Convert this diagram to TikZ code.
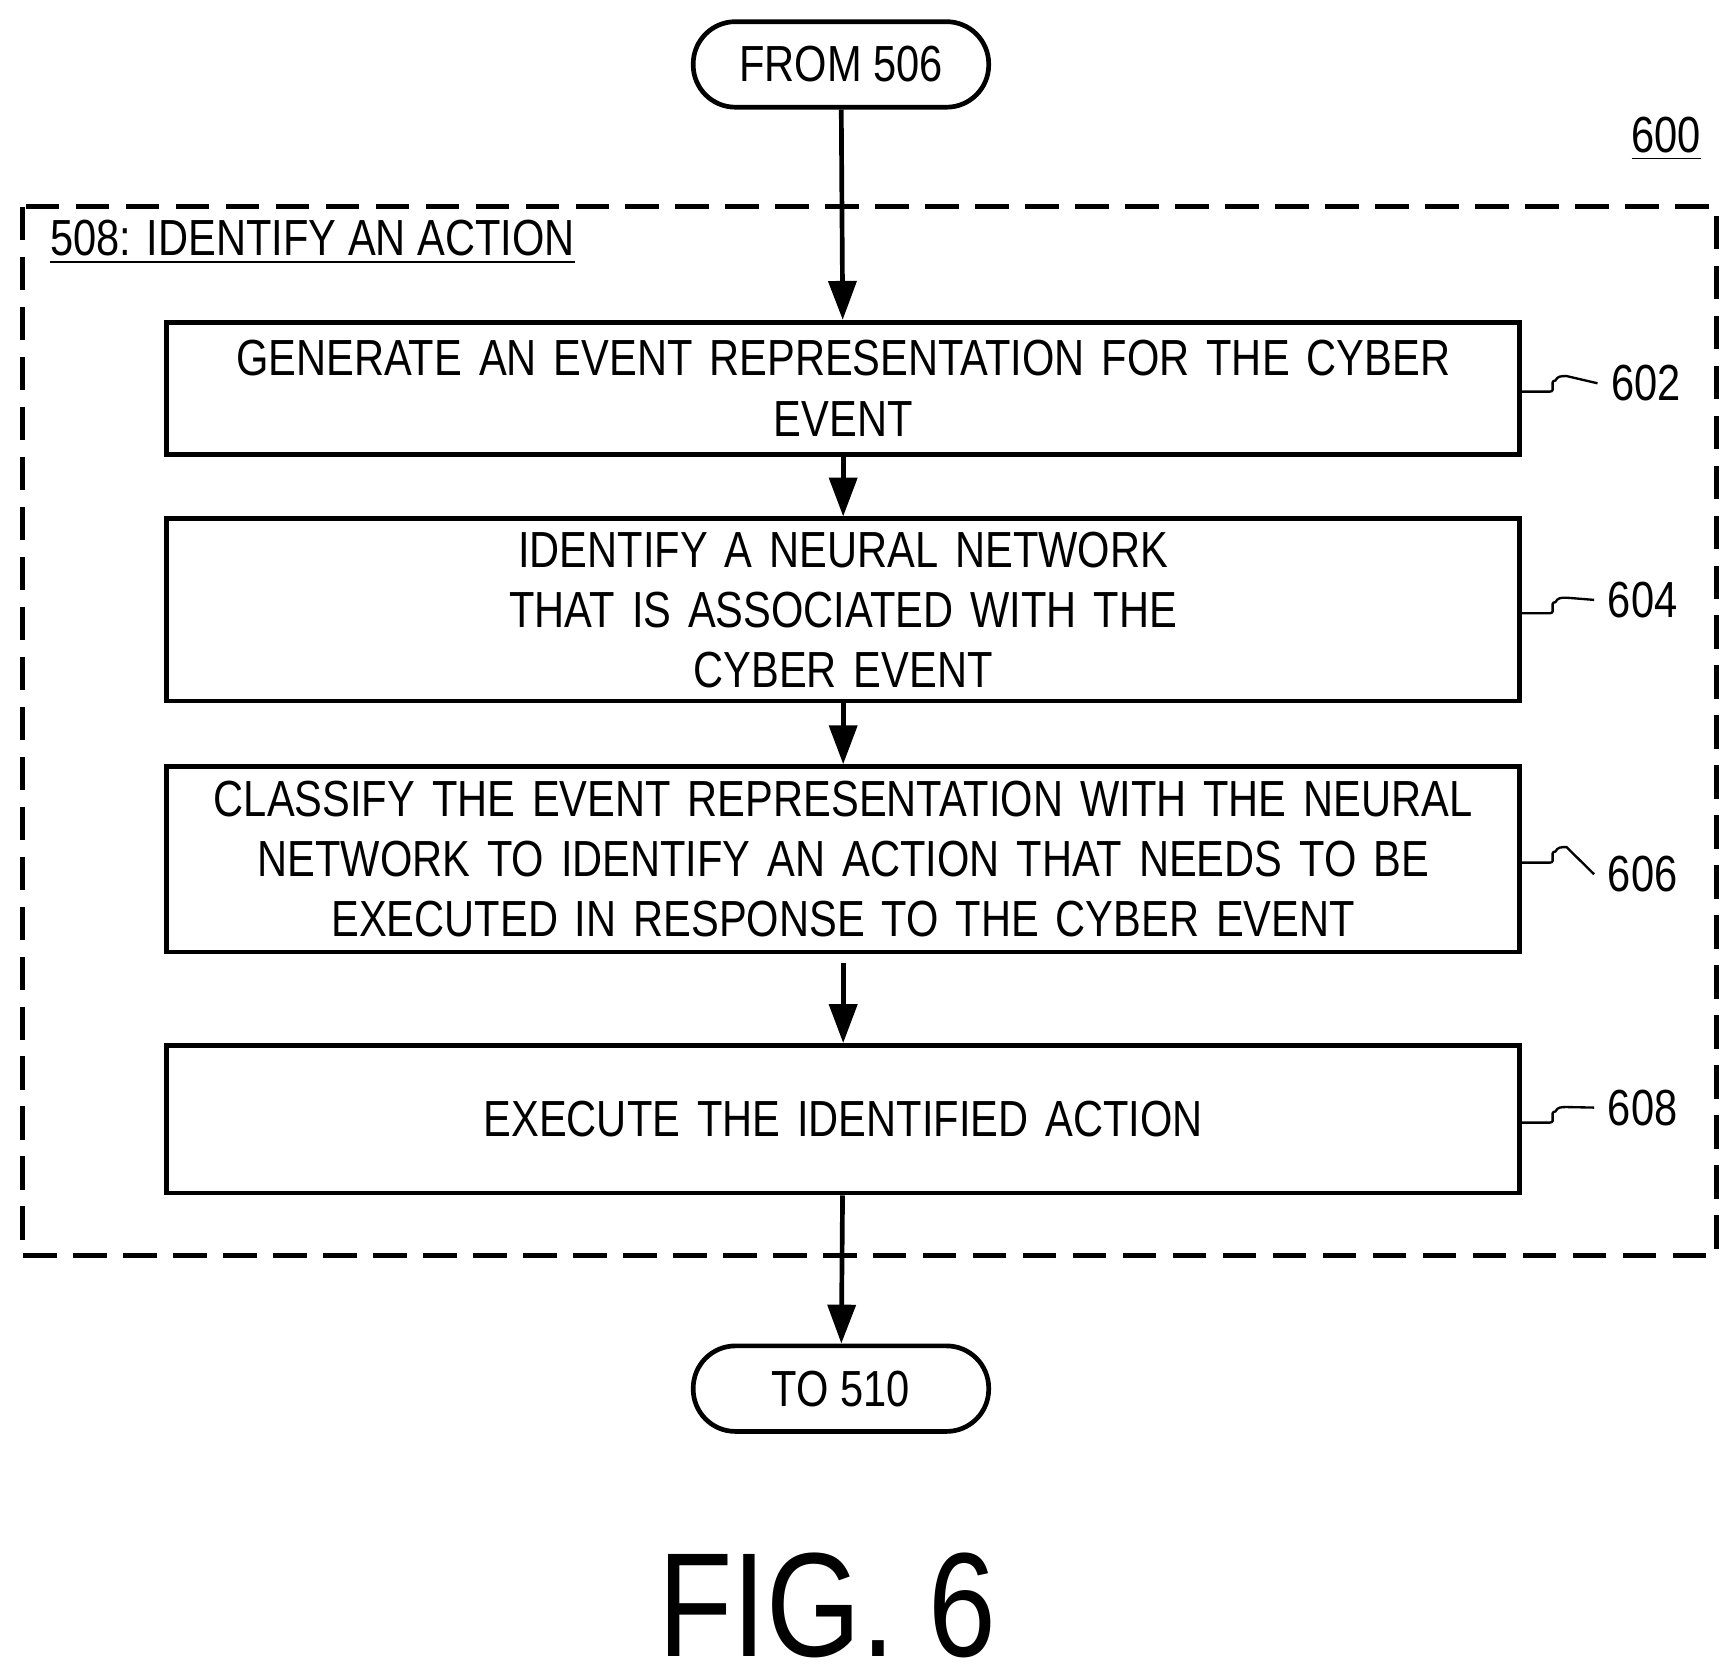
\documentclass[tikz,border=0pt]{standalone}
\usepackage{fontspec}
\setmainfont{Liberation Sans}[FakeStretch=0.82]
\usetikzlibrary{positioning,arrows.meta}
\tikzset{
  stepbox/.style={draw, line width=1.2pt, text width=11.9cm, minimum width=12.18cm, align=center, font=\fontsize{13}{15.4}\selectfont},
  term/.style={draw, line width=1.2pt, rounded corners=0.38cm, minimum width=2.66cm, minimum height=0.77cm, font=\fontsize{13}{15.4}\selectfont},
  flow/.style={-{Triangle[length=0.35cm,width=0.25cm]}, line width=1.2pt},
  ref/.style={font=\fontsize{13}{15.4}\selectfont},
  squig/.style={line width=0.6pt}
}
\begin{document}
\begin{tikzpicture}
    \useasboundingbox (0,0) rectangle (15.6,-15.0);

    % Define the positions of the nodes
    \node[term] (from) at (7.57,-0.58) {FROM 506};
    \node[ref] (fig) at (15.0,-1.25) {\underline{600}};
    \draw[dashed, dash pattern=on 0.3cm off 0.15cm, line width=1.2pt] (0.2,-1.86) rectangle (15.45,-11.3);
    \node[ref, anchor=west] (title) at (0.33,-2.18) {\underline{508: IDENTIFY AN ACTION}};

    \node[stepbox, minimum height=1.19cm] (s602) at (7.59,-3.495) {GENERATE AN EVENT REPRESENTATION FOR THE CYBER\\EVENT};
    \node[stepbox, minimum height=1.26cm] (s604) at (7.59,-5.49) {IDENTIFY A NEURAL NETWORK THAT IS ASSOCIATED WITH THE\\CYBER EVENT};
    \node[stepbox, minimum height=1.67cm] (s606) at (7.59,-7.735) {CLASSIFY THE EVENT REPRESENTATION WITH THE NEURAL\\NETWORK TO IDENTIFY AN ACTION THAT NEEDS TO BE\\EXECUTED IN RESPONSE TO THE CYBER EVENT};
    \node[stepbox, minimum height=1.33cm] (s608) at (7.59,-10.075) {EXECUTE THE IDENTIFIED ACTION};
    \node[term] (to) at (7.57,-12.5) {TO 510};
    \node[font=\fontsize{38}{44}\selectfont] (caption) at (7.45,-14.45) {FIG. 6};

    % Reference numerals
    \node[ref, anchor=west] (n602) at (14.38,-3.45) {602};
    \node[ref, anchor=west] (n604) at (14.35,-5.4) {604};
    \node[ref, anchor=west] (n606) at (14.35,-7.87) {606};
    \node[ref, anchor=west] (n608) at (14.35,-9.97) {608};
    \foreach \s/\n in {s602/n602, s604/n604, s606/n606, s608/n608} {
      \draw[squig] ([yshift=-0.03cm]\s.east) -- ++(0.25,0) .. controls +(0.06,0) and +(-0.06,0) .. ++(0.05,0.1)
        .. controls +(0.02,0.04) and +(-0.05,0) .. ++(0.1,0.04) -- (\n.west);
    }

    % Draw the edges
    \draw[flow] (from) -- (s602);
    \draw[flow] (s602) -- (s604);
    \draw[flow] (s604) -- (s606);
    \draw[flow] ([yshift=-0.08cm]s606.south) -- (s608);
    \draw[flow] (s608) -- (to);
\end{tikzpicture}
\end{document}
